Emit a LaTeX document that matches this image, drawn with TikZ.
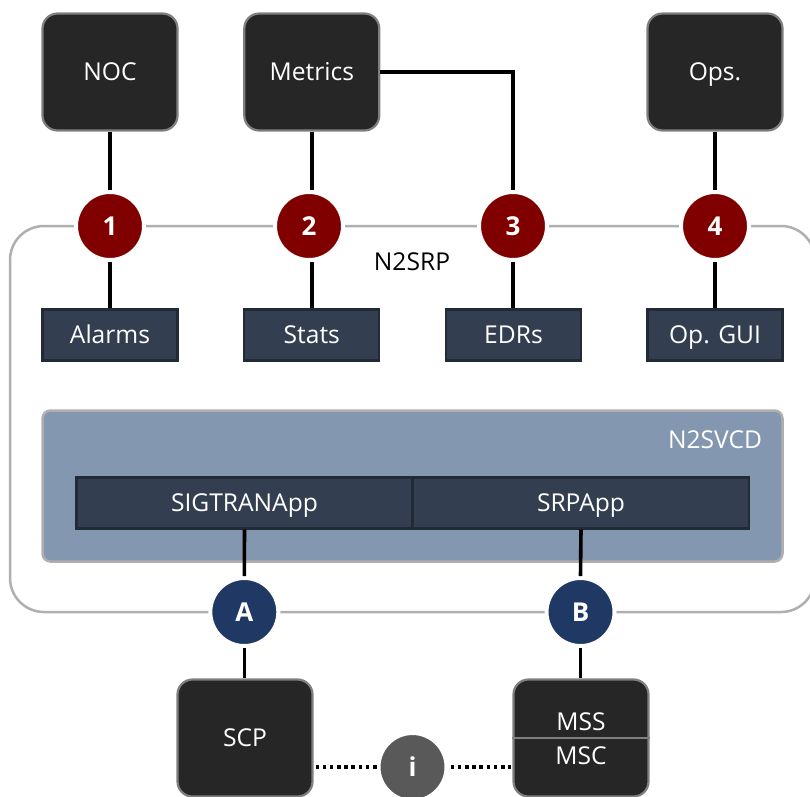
\documentclass[tikz,border=0pt]{standalone}
\usepackage{fontspec}
\setmainfont{Open Sans}
\tikzset{
  labelfont/.style={font=\fontsize{24.6}{28}\selectfont,text height=17.6pt,text depth=0pt,inner sep=0pt},
  darkbox/.style={draw=boxedge,line width=2.2pt,fill=boxfill,rounded corners=15pt,minimum width=135pt,minimum height=117pt,text=white,labelfont},
  appbox/.style={draw=appedge,line width=2.2pt,fill=appfill,minimum width=135pt,minimum height=51pt,text=white,labelfont},
  badge/.style={circle,draw=white,line width=4pt,minimum size=68pt,inner sep=0pt,text=white,font=\fontsize{26}{30}\selectfont\bfseries},
  redbadge/.style={badge,fill=badgered},
  bluebadge/.style={badge,fill=badgeblue},
  link/.style={line width=3.6pt,draw=black},
  dots/.style={line width=3.6pt,draw=black,dash pattern=on 3.6pt off 3.6pt},
  plain/.style={labelfont}
}
\definecolor{boxedge}{HTML}{7F7F7F}
\definecolor{boxfill}{HTML}{262626}
\definecolor{appedge}{HTML}{222A35}
\definecolor{appfill}{HTML}{333F50}
\definecolor{badgered}{HTML}{800000}
\definecolor{badgeblue}{HTML}{1F3864}
\definecolor{badgegray}{HTML}{595959}
\definecolor{svcdfill}{HTML}{8497B0}
\definecolor{panelline}{HTML}{AFAFAF}
\begin{document}
\begin{tikzpicture}[x=1pt,y=-1pt]
\useasboundingbox (0,0) rectangle (810,796);
\clip (0,0) rectangle (810,796);
% panels
\node[draw=panelline,line width=2.5pt,rounded corners=34pt,minimum width=805pt,minimum height=386pt,inner sep=0pt] (panel) at (412.5,419) {};
\node[plain] (srp) at (412,262) {N2SRP};
\node[draw=panelline,line width=2.5pt,fill=svcdfill,rounded corners=8pt,minimum width=740pt,minimum height=151pt,inner sep=0pt] (svcd) at (412.5,486) {};
\node[plain,text=white] (svcdlabel) at (715,440) {N2SVCD};
% top boxes
\node[darkbox] (noc) at (110,72) {NOC};
\node[darkbox] (metrics) at (311.8,72) {Metrics};
\node[darkbox] (ops) at (715,72) {Ops.};
% inner boxes
\node[appbox] (alarms) at (110,335) {Alarms};
\node[appbox] (stats) at (311.8,335) {Stats};
\node[appbox] (edrs) at (513.5,335) {EDRs};
\node[appbox] (opgui) at (715,335) {Op. GUI};
\node[appbox,minimum width=336pt] (sigtran) at (244.5,503) {SIGTRANApp};
\node[appbox,minimum width=336pt] (srpapp) at (581,503) {SRPApp};
% bottom boxes
\node[darkbox] (scp) at (245,738) {SCP};
\node[darkbox] (msc) at (581,738) {};
\draw[draw=boxedge,line width=2pt] (msc.west) -- (msc.east);
\node[plain,text=white] (msstext) at (581,722) {MSS};
\node[plain,text=white] (msctext) at (581,756) {MSC};
% badges
\node[redbadge] (c1) at (110,226) {1};
\node[redbadge] (c2) at (309,226) {2};
\node[redbadge] (c3) at (513,226) {3};
\node[redbadge] (c4) at (715,226) {4};
\node[bluebadge] (ca) at (244.3,612) {A};
\node[bluebadge] (cb) at (580.5,612) {B};
\node[badge,fill=badgegray] (ci) at (412.5,767) {i};
% connectors
\draw[link] (noc.south) -- (c1.north);
\draw[link] (c1.south) -- (alarms.north);
\draw[link] (metrics.south) -- (metrics.south |- c2.north);
\draw[link] (stats.north) -- (stats.north |- c2.south);
\draw[link] (metrics.east) -| (c3.north);
\draw[link] (c3.south) -- (c3.south |- edrs.north);
\draw[link] (ops.south) -- (c4.north);
\draw[link] (c4.south) -- (opgui.north);
\draw[link] (sigtran.south) -- (ca.north);
\draw[link] (ca.south) -- (ca.south |- scp.north);
\draw[link] (srpapp.south) -- (cb.north);
\draw[link] (cb.south) -- (cb.south |- msc.north);
\draw[dots,shorten >=2pt] (ci.west) -- (ci.west -| scp.east);
\draw[dots,shorten <=2pt,shorten >=1pt] (ci.east) -- (ci.east -| msc.west);
\end{tikzpicture}
\end{document}
